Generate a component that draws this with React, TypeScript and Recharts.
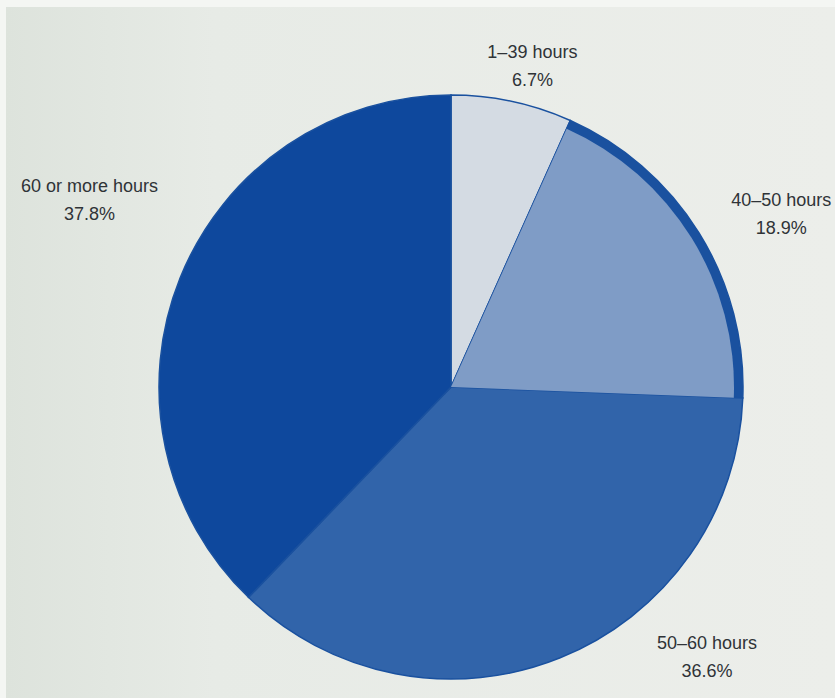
import React from 'react';
import { PieChart, Pie, Cell } from 'recharts';

const categories = ['1–39 hours', '40–50 hours', '50–60 hours', '60 or more hours'];
const shares = [6.7, 18.9, 36.6, 37.8];

const colors = ['#d4dbe3', '#7f9cc6', '#3164aa', '#0e489d'];
const ringColor = '#1a519f';

// where each label sits relative to a point just outside its slice
const labelNudge = [
  [11, 9],
  [44, 5],
  [130, -43],
  [-49, -61]
];

const data = categories.map((name, i) => ({ name, value: shares[i] }));

const RADIAN = Math.PI / 180;

const renderLabel = (props: any) => {
  const { cx, cy, midAngle, outerRadius, index, name, value } = props;
  const r = outerRadius + 45;
  const x = cx + r * Math.cos(-midAngle * RADIAN) + labelNudge[index][0];
  const y = cy + r * Math.sin(-midAngle * RADIAN) + labelNudge[index][1];
  return (
    <text
      fill='#2f3337'
      fontFamily='"Liberation Sans", Arial, sans-serif'
      fontSize={18}
      textAnchor='middle'
      x={x}
      y={y}
    >
      <tspan dy={-8} x={x}>{name}</tspan>
      <tspan dy={28} x={x}>{`${value}%`}</tspan>
    </text>
  );
};

export default function App() {
  return (
    <div
      style={{
        position: 'absolute',
        left: 0,
        top: 0,
        width: 835,
        height: 698,
        background: '#f4f6f3'
      }}
    >
      <div
        style={{
          position: 'absolute',
          left: 6,
          top: 7,
          width: 829,
          height: 691,
          background: 'linear-gradient(90deg, #dde3dc 0%, #e7ebe6 25%, #eceeea 100%)'
        }}
      />
      <div style={{ position: 'absolute', left: 0, top: 0 }}>
        <PieChart height={698} margin={{ top: 0, right: 0, bottom: 0, left: 0 }} width={835}>
          <Pie
            cx={451}
            cy={387}
            data={data}
            dataKey='value'
            endAngle={-270}
            isAnimationActive={false}
            label={renderLabel}
            labelLine={false}
            nameKey='name'
            outerRadius={292}
            startAngle={90}
            stroke={ringColor}
            strokeWidth={1.5}
          >
            {data.map((d, i) => (
              <Cell fill={i === 1 ? ringColor : colors[i]} key={d.name} />
            ))}
          </Pie>
          <Pie
            cx={451}
            cy={387}
            data={data}
            dataKey='value'
            endAngle={-270}
            isAnimationActive={false}
            nameKey='name'
            outerRadius={283}
            startAngle={90}
            stroke='none'
          >
            {data.map((d, i) => (
              <Cell fill={i === 1 ? colors[1] : 'none'} key={d.name} />
            ))}
          </Pie>
        </PieChart>
      </div>
    </div>
  );
}
